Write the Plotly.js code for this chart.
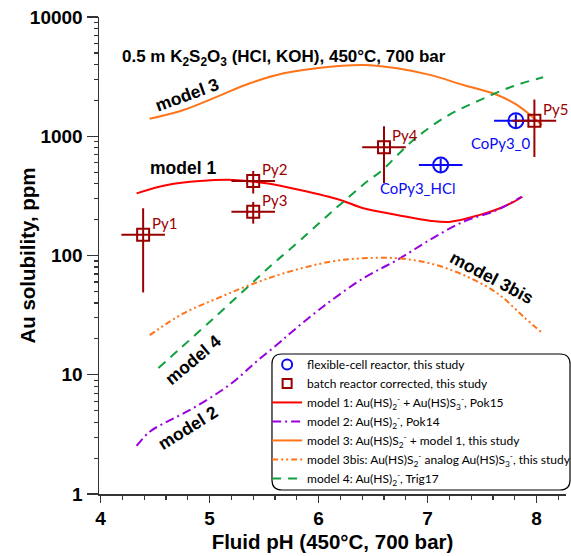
<!DOCTYPE html>
<html><head><meta charset="utf-8">
<script src="https://cdn.plot.ly/plotly-3.0.1.min.js"></script>
<style>body{margin:0;background:#fff}</style>
</head><body><div id="chart" style="width:571px;height:556px"></div>
<script>
// ---- data ----
const m1X = [4.33, 4.61, 4.91, 5.22, 5.52, 5.83, 6.20, 6.41, 6.72, 7.02, 7.21, 7.48, 7.64, 7.79, 7.87];
const m1Y = [332, 390, 421, 430, 403, 354, 292, 249, 219, 196, 192, 219, 244, 282, 311];
const m2X = [4.33, 4.45, 4.61, 4.79, 5.00, 5.22, 5.43, 5.65, 5.74, 6.04, 6.41, 6.72, 7.02, 7.33, 7.64, 7.86];
const m2Y = [2.53, 3.33, 4.04, 4.9, 6.35, 8.75, 12.9, 18.9, 22.3, 37.2, 64.4, 91.7, 135, 192, 241, 310];
const m3X = [4.45, 4.76, 5.07, 5.37, 5.68, 5.98, 6.41, 6.72, 7.02, 7.33, 7.64, 7.82, 7.94, 8.05];
const m3Y = [1400, 1660, 2150, 2780, 3370, 3720, 3960, 3720, 3270, 2690, 2220, 1830, 1510, 1240];
const m3bX = [4.45, 4.76, 5.07, 5.37, 5.68, 6.11, 6.41, 6.72, 7.02, 7.33, 7.64, 7.88, 8.05];
const m3bY = [21.5, 32.7, 43.7, 56.6, 70.9, 88.8, 94.8, 94.8, 86.0, 68.6, 48.2, 30.7, 22.5];
const m4X = [4.53, 4.73, 5.07, 5.34, 5.58, 5.83, 6.13, 6.45, 6.57, 6.87, 7.18, 7.48, 7.79, 8.06];
const m4Y = [11.4, 16.6, 31.7, 53.4, 84.9, 134, 236, 421, 506, 930, 1480, 2010, 2640, 3120];

const pyNames = ["Py1", "Py2", "Py3", "Py4", "Py5"];
const pyX = [4.39, 5.40, 5.40, 6.60, 7.98];
const pyY = [149, 421, 233, 808, 1350];
const pyErrY = [100, 90, 48, 405, 680];
const pyErrX = [0.2, 0.2, 0.2, 0.2, 0.2];

const coNames = ["CoPy3_HCl", "CoPy3_0"];
const coX = [7.12, 7.81];
const coY = [574, 1350];
const coErrY = [75, 175];
const coErrX = [0.2, 0.2];

const xTicks = [4, 5, 6, 7, 8];

const modelLabels = ["model 3", "model 1", "model 4", "model 2", "model 3bis"];
const modelLabelX = [4.79, 4.756, 4.848, 4.80, 7.593];
const modelLabelY = [2218, 542, 13.3, 3.57, 64.7];
const modelLabelAngle = [-20, 0, -40, -32, 28];

// ---- styling ----
const DARKRED = '#990000';
const BLUE = '#0A0AF5';
const BOLD = {family: 'Liberation Sans, Arial, sans-serif', color: '#000', weight: 'bold'};
const CAL = 'Lato, Calibri, sans-serif';
const CO_NAME = 'flexible-cell reactor, this study';
const PY_NAME = 'batch reactor corrected, this study';

const traces = [
  // legend entries for the point series (small symbols as in the reference legend)
  {x: [null], y: [null], type: 'scatter', mode: 'markers', name: CO_NAME, legendrank: 1,
   marker: {symbol: 'circle-open', size: 10, color: BLUE, line: {width: 2, color: BLUE}}},
  {x: [null], y: [null], type: 'scatter', mode: 'markers', name: PY_NAME, legendrank: 2,
   marker: {symbol: 'square-open', size: 9, color: DARKRED, line: {width: 2, color: DARKRED}}},
  {x: coX, y: coY, type: 'scatter', mode: 'markers', name: CO_NAME, showlegend: false,
   marker: {symbol: 'circle-open', size: 15, color: BLUE, line: {width: 2, color: BLUE}},
   error_y: {type: 'data', array: coErrY, color: BLUE, thickness: 2, width: 0},
   error_x: {type: 'data', array: coErrX, color: BLUE, thickness: 2, width: 0}},
  {x: m1X, y: m1Y, type: 'scatter', mode: 'lines', name: 'model 1: Au(HS)<sub>2</sub><sup>-</sup> + Au(HS)S<sub>3</sub><sup>-</sup>, Pok15', legendrank: 3,
   line: {color: '#FF0000', width: 2, shape: 'spline'}},
  {x: m2X, y: m2Y, type: 'scatter', mode: 'lines', name: 'model 2: Au(HS)<sub>2</sub><sup>-</sup>, Pok14', legendrank: 4,
   line: {color: '#9900DD', width: 2, shape: 'spline', dash: '9px,4px,2px,4px'}},
  {x: m3X, y: m3Y, type: 'scatter', mode: 'lines', name: 'model 3: Au(HS)S<sub>2</sub><sup>-</sup> + model 1, this study', legendrank: 5,
   line: {color: '#FF7418', width: 2, shape: 'spline'}},
  {x: m3bX, y: m3bY, type: 'scatter', mode: 'lines', name: 'model 3bis: Au(HS)S<sub>2</sub><sup>-</sup> analog Au(HS)S<sub>3</sub><sup>-</sup>, this study', legendrank: 6,
   line: {color: '#FF7418', width: 2, shape: 'spline', dash: '6px,3px,2px,3px,2px,3px'}},
  {x: m4X, y: m4Y, type: 'scatter', mode: 'lines', name: 'model 4: Au(HS)<sub>2</sub><sup>-</sup>, Trig17', legendrank: 7,
   line: {color: '#10A040', width: 2, shape: 'spline', dash: '9px,7px'}},
  {x: pyX, y: pyY, type: 'scatter', mode: 'markers', name: PY_NAME, showlegend: false,
   marker: {symbol: 'square-open', size: 12, color: DARKRED, line: {width: 2, color: DARKRED}},
   error_y: {type: 'data', array: pyErrY, color: DARKRED, thickness: 2, width: 0},
   error_x: {type: 'data', array: pyErrX, color: DARKRED, thickness: 2, width: 0}}
];

const annotations = [];
annotations.push({xref: 'paper', yref: 'paper', x: 0.396, y: 0.941, xanchor: 'center', showarrow: false,
  text: '0.5 m K<sub>2</sub>S<sub>2</sub>O<sub>3</sub> (HCl, KOH), 450°C, 700 bar',
  font: Object.assign({}, BOLD, {size: 17})});
annotations.push({xref: 'paper', yref: 'paper', x: -0.154, y: 0.5, xanchor: 'center', yanchor: 'middle',
  showarrow: false, textangle: -90,
  text: 'Au solubility, ppm', font: Object.assign({}, BOLD, {size: 20.5})});
modelLabels.forEach((t, i) => annotations.push({x: modelLabelX[i], y: Math.log10(modelLabelY[i]), text: t,
  xanchor: 'center', yanchor: 'middle',
  showarrow: false, textangle: modelLabelAngle[i], font: Object.assign({}, BOLD, {size: 17.5})}));
pyNames.forEach((t, i) => annotations.push({x: pyX[i], y: Math.log10(pyY[i]), text: t, showarrow: false,
  xanchor: 'center', yanchor: 'middle',
  xshift: 21, yshift: 12, font: {family: CAL, size: 15, color: DARKRED}}));
const coShiftX = [-23, -15], coShiftY = [-23, -22];
coNames.forEach((t, i) => annotations.push({x: coX[i], y: Math.log10(coY[i]), text: t, showarrow: false,
  xanchor: 'center', yanchor: 'middle',
  xshift: coShiftX[i], yshift: coShiftY[i], font: {family: CAL, size: 15, color: BLUE}}));

// legend box with rounded corners (paper coords)
const bx0 = 0.3704, bx1 = 1.0086, by0 = 0.0084, by1 = 0.2935, rx = 0.0214, ry = 0.021;
const boxPath = `M ${bx0+rx},${by1} L ${bx1-rx},${by1} Q ${bx1},${by1} ${bx1},${by1-ry} L ${bx1},${by0+ry} Q ${bx1},${by0} ${bx1-rx},${by0} L ${bx0+rx},${by0} Q ${bx0},${by0} ${bx0},${by0+ry} L ${bx0},${by1-ry} Q ${bx0},${by1} ${bx0+rx},${by1} Z`;

const layout = {
  width: 571, height: 556,
  margin: {l: 99, r: 5, t: 17, b: 62, autoexpand: false},
  paper_bgcolor: '#fff', plot_bgcolor: 'rgba(0,0,0,0)',
  showlegend: true,
  legend: {x: 0.36, y: 0.302, xanchor: 'left', yanchor: 'top', bgcolor: 'rgba(255,255,255,0)',
    borderwidth: 0, font: {family: CAL, size: 12, color: '#000'}, tracegroupgap: 0, itemwidth: 30},
  xaxis: {range: [3.985, 8.27], tickvals: xTicks, ticktext: xTicks.map(String), showgrid: false, zeroline: false,
    showline: true, linecolor: '#333', linewidth: 1.5, ticks: 'outside', ticklen: 7, tickwidth: 1.2, tickcolor: '#333',
    minor: {dtick: 0.2, ticks: 'outside', ticklen: 4, tickwidth: 1.2, tickcolor: '#333', showgrid: false},
    tickfont: Object.assign({}, BOLD, {size: 19}),
    title: {text: 'Fluid pH (450°C, 700 bar)', font: Object.assign({}, BOLD, {size: 20.5}), standoff: 6}},
  yaxis: {type: 'log', range: [0, 4], dtick: 1, tickformat: 'd', showgrid: false, zeroline: false,
    showline: true, linecolor: '#333', linewidth: 1.5, ticks: 'outside', ticklen: 11, tickwidth: 1.2, tickcolor: '#333',
    minor: {dtick: 'D1', ticks: 'outside', ticklen: 4, tickwidth: 1.2, tickcolor: '#333', showgrid: false},
    tickfont: Object.assign({}, BOLD, {size: 19})},
  annotations: annotations,
  shapes: [{type: 'path', xref: 'paper', yref: 'paper', path: boxPath, line: {color: '#000', width: 1.2}, fillcolor: 'rgba(0,0,0,0)', layer: 'above'}]
};

Plotly.newPlot('chart', traces, layout, {displayModeBar: false, staticPlot: true});
</script>
</body></html>
